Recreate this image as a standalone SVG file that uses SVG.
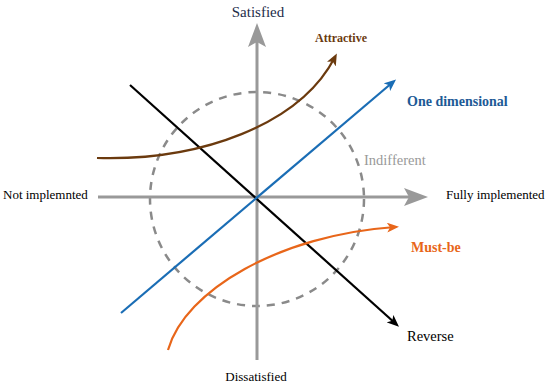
<svg xmlns="http://www.w3.org/2000/svg" width="550" height="385" viewBox="0 0 550 385">
<style>
.t{font-family:"Liberation Serif","Times New Roman",serif;font-size:13px}
.b{font-weight:bold}
.axis{stroke:#999;stroke-width:3;fill:none}
.ln{stroke-width:2.2;fill:none}
</style>
<defs>
<marker id="axh" markerUnits="userSpaceOnUse" viewBox="0 0 24 18" markerWidth="24" markerHeight="18" refX="14" refY="9" orient="auto"><path d="M0,0 L24,9 L0,18 L5,9 z" fill="#999"/></marker>
<marker id="ak" markerUnits="userSpaceOnUse" viewBox="0 0 12 10" markerWidth="12" markerHeight="10" refX="8" refY="5" orient="auto"><path d="M0,0 L12,5 L0,10 L3,5 z" fill="#000"/></marker>
<marker id="ab" markerUnits="userSpaceOnUse" viewBox="0 0 12 10" markerWidth="12" markerHeight="10" refX="8" refY="5" orient="auto"><path d="M0,0 L12,5 L0,10 L3,5 z" fill="#1a6db5"/></marker>
<marker id="ar" markerUnits="userSpaceOnUse" viewBox="0 0 12 10" markerWidth="12" markerHeight="10" refX="8" refY="5" orient="auto"><path d="M0,0 L12,5 L0,10 L3,5 z" fill="#6b3a0e"/></marker>
<marker id="ao" markerUnits="userSpaceOnUse" viewBox="0 0 12 10" markerWidth="12" markerHeight="10" refX="8" refY="5" orient="auto"><path d="M0,0 L12,5 L0,10 L3,5 z" fill="#e8661a"/></marker>
</defs>
<rect width="550" height="385" fill="#fff"/>
<g id="indifferent-circle">
<circle cx="257" cy="199" r="107" fill="none" stroke="#8a8a8a" stroke-width="2.5" stroke-dasharray="8,7"/>
</g>
<g id="connectors">
<line class="axis" x1="257" y1="360" x2="257" y2="33" marker-end="url(#axh)"/>
<line class="axis" x1="98" y1="197" x2="418" y2="197" marker-end="url(#axh)"/>
<line class="ln" stroke="#000" x1="130" y1="85" x2="396" y2="324" marker-end="url(#ak)"/>
<line class="ln" stroke="#1a6db5" x1="121" y1="313" x2="393" y2="82" marker-end="url(#ab)"/>
<path class="ln" stroke="#6b3a0e" d="M97,158 C200,161 300,125 335,57" marker-end="url(#ar)"/>
<path class="ln" stroke="#e8661a" d="M168,350 C185,290 280,235 395,227" marker-end="url(#ao)"/>
</g>
<g id="labels">
<text class="t" x="258" y="17" text-anchor="middle" fill="#1e2d4a" style="font-size:15px">Satisfied</text>
<text class="t" x="256" y="381" text-anchor="middle" fill="#000">Dissatisfied</text>
<text class="t" x="3" y="199" fill="#000">Not implemnted</text>
<text class="t" x="446" y="199" fill="#000">Fully implemented</text>
<text class="t b" x="315" y="42" fill="#6b3a0e" style="font-size:12px">Attractive</text>
<text class="t b" x="407" y="106" fill="#1d5a96" style="font-size:14px">One dimensional</text>
<text class="t" x="364" y="165" fill="#999" style="font-size:14.5px">Indifferent</text>
<text class="t b" x="411" y="252" fill="#e8661a" style="font-size:14px">Must-be</text>
<text class="t" x="407" y="341" fill="#000" style="font-size:14.5px">Reverse</text>
</g>
</svg>
